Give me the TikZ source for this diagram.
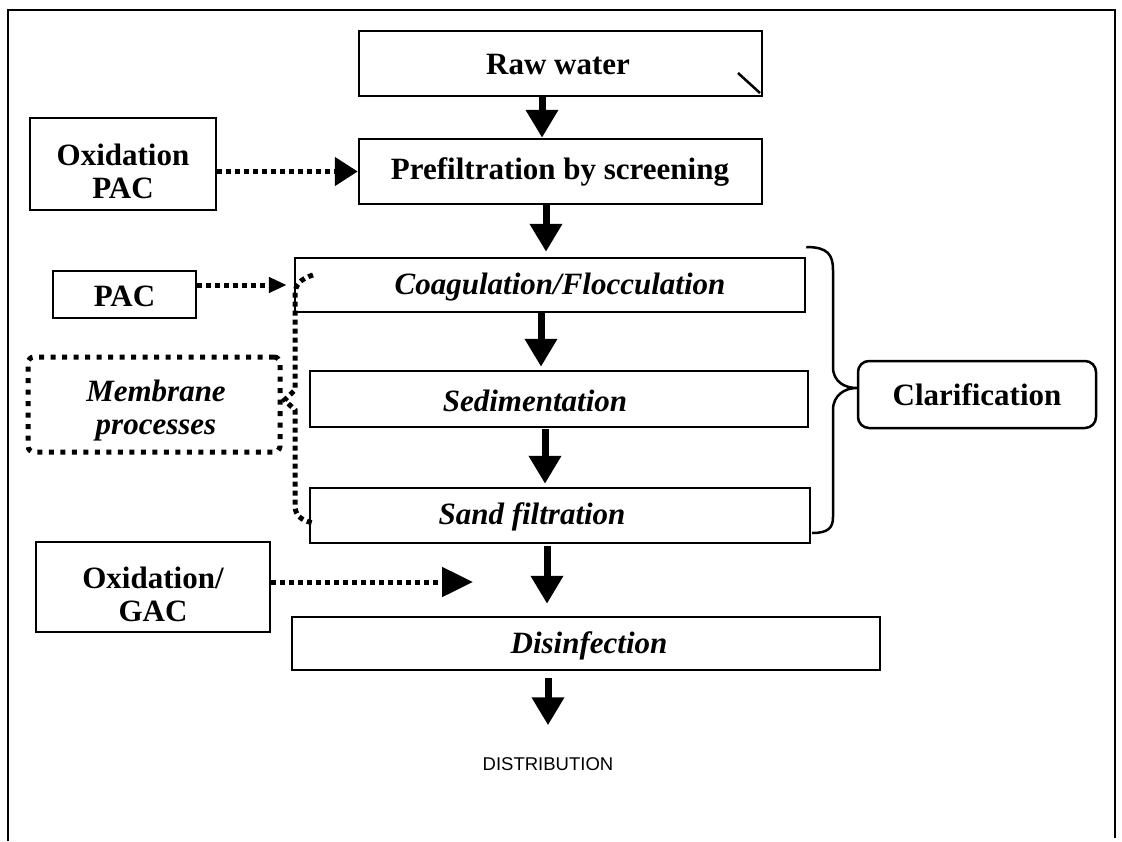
\documentclass[tikz,border=0pt]{standalone}
\usepackage{fontspec}
\setmainfont{Liberation Serif}
\setsansfont{Liberation Sans}
\usetikzlibrary{arrows.meta}
\begin{document}
\begin{tikzpicture}[x=1pt,y=-1pt,
  box/.style={draw, line width=2.5pt, rectangle, inner sep=0pt},
  btxt/.style={font=\fontsize{31}{33}\selectfont\bfseries, align=center, inner sep=0pt},
  itxt/.style={font=\fontsize{31}{33}\selectfont\bfseries\itshape, align=center, inner sep=0pt},
  flow/.style={line width=7pt, -{Triangle[width=31pt,length=28pt]}},
  dotline/.style={line width=5pt, dash pattern=on 5pt off 4pt},
  bracestyle/.style={line width=2.5pt, line join=round}]
\useasboundingbox (0,0) rectangle (1122,841);
% frame
\draw[line width=2.5pt] (8,841) -- (8,10) -- (1115,10) -- (1115,838);
% main boxes
\node[box, minimum width=403pt, minimum height=65pt] (raw) at (560.5,63.5) {};
\node[btxt] (rawt) at (558,64) {Raw water};
\draw[line width=2.5pt] (738,73) -- (760,93);
\node[box, minimum width=403pt, minimum height=65pt] (prefilt) at (560.5,171.5) {};
\node[btxt] (prefiltt) at (560,172) {Prefiltration by screening};
\node[box, minimum width=510pt, minimum height=54pt] (coag) at (550,285) {};
\node[itxt] (coagt) at (560,287) {Coagulation/Flocculation};
\node[box, minimum width=498pt, minimum height=56pt] (sedim) at (559,399) {};
\node[itxt] (sedimt) at (535,401) {Sedimentation};
\node[box, minimum width=500pt, minimum height=55pt] (sand) at (560,515.5) {};
\node[itxt] (sandt) at (532,517) {Sand filtration};
\node[box, minimum width=588pt, minimum height=53pt] (disinf) at (586,643.5) {};
\node[itxt] (disinft) at (589,646) {Disinfection};
\node[inner sep=0pt, font=\sffamily\fontsize{18.5}{20}\selectfont] (dist) at (548,764) {DISTRIBUTION};
% side boxes
\node[box, minimum width=186pt, minimum height=92pt] (oxpac) at (123,164) {};
\node[btxt] (oxpact) at (123,171) {Oxidation\\PAC};
\node[box, minimum width=143pt, minimum height=47pt] (pac) at (124.5,294.5) {};
\node[btxt] (pact) at (124.5,296) {PAC};
\node[box, minimum width=234pt, minimum height=90pt] (gac) at (153,587) {};
\node[btxt] (gact) at (153,594) {Oxidation/\\GAC};
\node[draw, line width=5pt, dash pattern=on 5pt off 6.5pt, rounded corners=6pt,
      minimum width=252pt, minimum height=95pt] (memb) at (154,404.5) {};
\node[itxt] (membt) at (156,411) {Membrane\\processes};
\node[draw, line width=2.5pt, rounded corners=11pt, minimum width=238pt, minimum height=67pt, btxt]
      (clar) at (977,394.5) {Clarification};
% flow arrows
\coordinate (c1) at (542,0);
\coordinate (c2) at (546,0);
\coordinate (c3) at (541,0);
\coordinate (c4) at (545,0);
\coordinate (c5) at (547,0);
\coordinate (c6) at (548,0);
\draw[flow] (raw.south -| c1) -- (prefilt.north -| c1);
\draw[flow, shorten >=5pt] (prefilt.south -| c2) -- (coag.north -| c2);
\draw[flow, shorten >=3pt] (coag.south -| c3) -- (sedim.north -| c3);
\draw[flow, shorten <=1pt, shorten >=3pt] (sedim.south -| c4) -- (sand.north -| c4);
\draw[flow, shorten <=2pt, shorten >=12pt] (sand.south -| c5) -- (disinf.north -| c5);
\draw[flow, shorten <=7pt, shorten >=32pt] (disinf.south -| c6) -- (dist.north -| c6);
% dotted arrows
\draw[dotline, -{Triangle[width=28pt,length=23pt]}] (oxpac.east |- prefilt.west) -- (prefilt.west);
\draw[dotline, -{Triangle[width=15pt,length=18pt]}, shorten >=7pt] (pac.east |- coag.west) -- (coag.west);
\coordinate (gacend) at (473,582);
\draw[dotline, -{Triangle[width=29pt,length=31pt]}] (gac.east |- gacend) -- (gacend);
% dotted brace for membrane processes
\coordinate (mtop) at (313,275);
\coordinate (mbot) at (313,523);
\draw[dotline] (mtop) .. controls (300,279) and (295,285) .. (295,295) -- (295,390)
   -- ([xshift=2pt]memb.east |- 0,400) -- (295,410) -- (295,505)
   .. controls (295,515) and (300,520) .. (mbot);
% solid brace for clarification
\draw[bracestyle] (coag.north east |- 0,247) .. controls (828,247) and (833,255) .. (833,270) -- (833,367)
   .. controls (833,382) and (845,388) .. (clar.west |- 0,388)
   .. controls (845,388) and (833,395) .. (833,410) -- (833,517)
   .. controls (833,528) and (828,533) .. (812,533);
\end{tikzpicture}
\end{document}
